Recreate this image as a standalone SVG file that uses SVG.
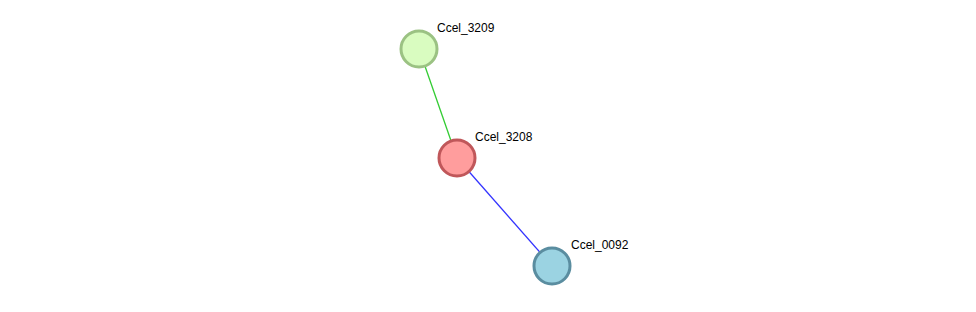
<svg xmlns="http://www.w3.org/2000/svg" width="976" height="312" viewBox="0 0 976 312">
<style>
.lbl{font-family:"Liberation Sans",Arial,sans-serif;font-size:12px;fill:#000}
.n{stroke-width:3}
</style>
<rect width="976" height="312" fill="#fff"/>
<g id="edges">
<line x1="419" y1="49" x2="457" y2="158" stroke="#33cc33" stroke-width="1.3"/>
<line x1="457" y1="158" x2="552" y2="266" stroke="#3333ff" stroke-width="1.3"/>
</g>
<g id="Ccel_3209">
<circle class="n" cx="419" cy="49" r="18" fill="#d9fcc0" stroke="#9bc283"/>
<text class="lbl" x="437" y="32">Ccel_3209</text>
</g>
<g id="Ccel_3208">
<circle class="n" cx="457" cy="158" r="18" fill="#ff9d9d" stroke="#c0575a"/>
<text class="lbl" x="475" y="141">Ccel_3208</text>
</g>
<g id="Ccel_0092">
<circle class="n" cx="552" cy="266" r="18" fill="#9bd3e2" stroke="#5a8da0"/>
<text class="lbl" x="571" y="249">Ccel_0092</text>
</g>
</svg>
